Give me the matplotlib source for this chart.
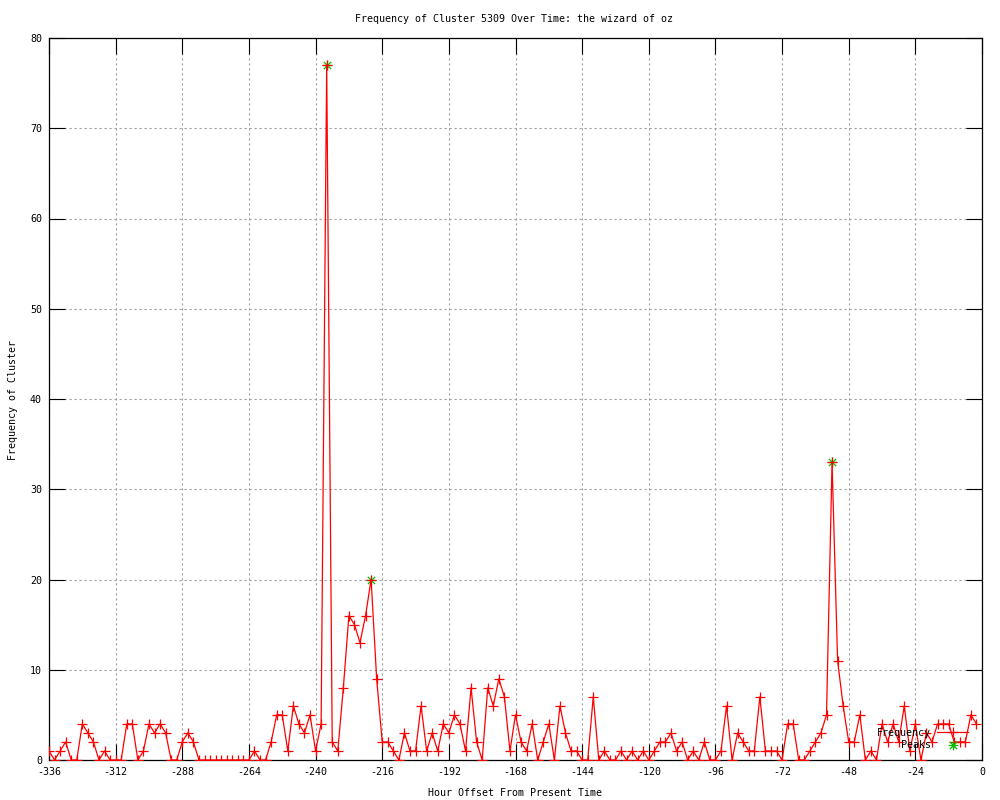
import matplotlib
matplotlib.use("Agg")
import matplotlib.pyplot as plt
from matplotlib.path import Path

# ---- data ----
hours = list(range(-336, 0, 2))
frequency = [
    1, 0, 1, 2, 0, 0, 4, 3, 2, 0, 1, 0,          # -336 .. -314
    0, 0, 4, 4, 0, 1, 4, 3, 4, 3, 0, 0,          # -312 .. -290
    2, 3, 2, 0, 0, 0, 0, 0, 0, 0, 0, 0,          # -288 .. -266
    0, 1, 0, 0, 2, 5, 5, 1, 6, 4, 3, 5,          # -264 .. -242
    1, 4, 77, 2, 1, 8, 16, 15, 13, 16, 20, 9,    # -240 .. -218
    2, 2, 1, 0, 3, 1, 1, 6, 1, 3, 1, 4,          # -216 .. -194
    3, 5, 4, 1, 8, 2, 0, 8, 6, 9, 7, 1,          # -192 .. -170
    5, 2, 1, 4, 0, 2, 4, 0, 6, 3, 1, 1,          # -168 .. -146
    0, 0, 7, 0, 1, 0, 0, 1, 0, 1, 0, 1,          # -144 .. -122
    0, 1, 2, 2, 3, 1, 2, 0, 1, 0, 2, 0,          # -120 .. -98
    0, 1, 6, 0, 3, 2, 1, 1, 7, 1, 1, 1,          # -96 .. -74
    0, 4, 4, 0, 0, 1, 2, 3, 5, 33, 11, 6,        # -72 .. -50
    2, 2, 5, 0, 1, 0, 4, 2, 4, 2, 6, 1,          # -48 .. -26
    4, 0, 3, 2, 4, 4, 4, 2, 2, 2, 5, 4,          # -24 .. -2
]
peak_hours = [-236, -220, -54]
peak_values = [77, 20, 33]

x_ticks = list(range(-336, 1, 24))
y_ticks = list(range(0, 81, 10))

title = "Frequency of Cluster 5309 Over Time: the wizard of oz"
x_label = "Hour Offset From Present Time"
y_label = "Frequency of Cluster"

# ---- style ----
plt.rcParams["font.family"] = ["DejaVu Sans Mono", "DejaVu Sans"]
plt.rcParams["axes.unicode_minus"] = False
FS = 7.2

# asterisk marker (gnuplot point type 3)
ast = Path(
    [(-1, 0), (1, 0), (0, -1), (0, 1), (-0.75, -0.75), (0.75, 0.75), (-0.75, 0.75), (0.75, -0.75)],
    [Path.MOVETO, Path.LINETO] * 4,
)

fig = plt.figure(figsize=(10, 8), dpi=100)
ax = fig.add_axes([0.049, 0.05, 0.933, 0.9025])

ax.plot(hours, frequency, color="#ff0000", linewidth=0.9, marker="+",
        markersize=7, markeredgewidth=0.9, label="Frequency", zorder=3)
ax.plot(peak_hours, peak_values, linestyle="none", marker=ast, color="#00c000",
        markersize=7, markeredgewidth=0.9, label="Peaks", zorder=2)

ax.set_xlim(-336, 0)
ax.set_ylim(0, 80)
ax.set_xticks(x_ticks)
ax.set_yticks(y_ticks)
ax.tick_params(direction="in", length=11.5, width=0.8, color="black",
               top=True, right=True, labelsize=FS, pad=5)
ax.grid(True, color="#a0a0a0", linestyle=(0, (2, 2.5)), linewidth=0.8)
ax.set_axisbelow(True)
for s in ax.spines.values():
    s.set_linewidth(0.9)
    s.set_color("black")

leg = ax.legend(loc="center right", bbox_to_anchor=(0.985, 0.029),
                markerfirst=False, frameon=False, fontsize=FS,
                handlelength=3.1, handletextpad=0.6, labelspacing=0.25,
                borderaxespad=0, borderpad=0, numpoints=1)

fig.text(0.514, 1 - 19 / 800, title, ha="center", va="center", fontsize=FS)
fig.text(0.5155, 1 - 793 / 800, x_label, ha="center", va="center", fontsize=FS)
fig.text(0.013, 0.5, y_label, ha="center", va="center", rotation=90, fontsize=FS)

fig.savefig("out.png", dpi=100)
